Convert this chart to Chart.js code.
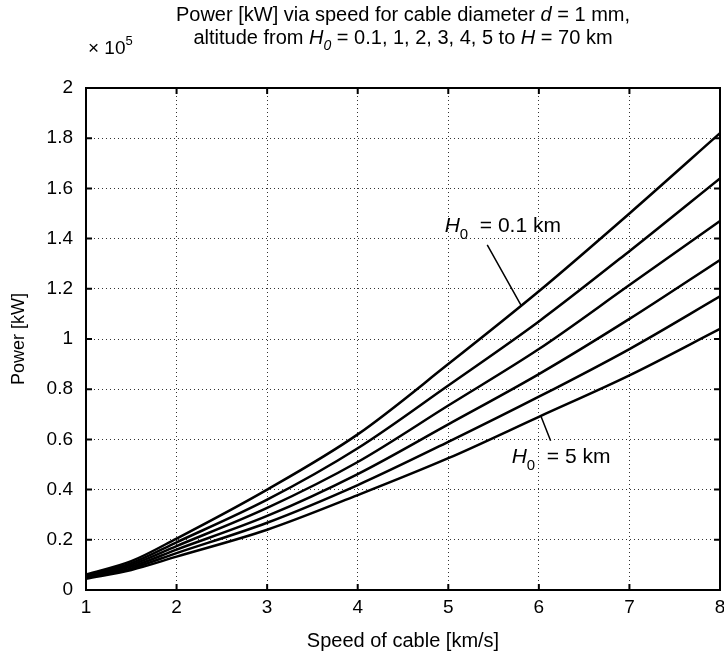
<!DOCTYPE html>
<html>
<head>
<meta charset="utf-8">
<script src="https://cdn.jsdelivr.net/npm/chart.js@4.4.1/dist/chart.umd.min.js"></script>
<style>
html, body { margin: 0; padding: 0; background: #fff; }
#wrap { width: 724px; height: 659px; }
</style>
</head>
<body>
<div id="wrap"><canvas id="chart" width="724" height="659"></canvas></div>
<script>
// speed of cable [km/s]
const speed = [1, 1.5, 2, 3, 4, 5, 6, 7, 8];
// power in units of 10^5 kW, one array per starting altitude H0
const powerH0_01 = [0.062, 0.115, 0.205, 0.40, 0.62, 0.90, 1.19, 1.50, 1.82];
const powerH0_1 = [0.058, 0.107, 0.190, 0.36, 0.565, 0.815, 1.07, 1.35, 1.64];
const powerH0_2 = [0.055, 0.100, 0.175, 0.327, 0.51, 0.735, 0.96, 1.215, 1.47];
const powerH0_3 = [0.052, 0.093, 0.161, 0.295, 0.462, 0.66, 0.86, 1.08, 1.315];
const powerH0_4 = [0.049, 0.086, 0.147, 0.268, 0.418, 0.59, 0.77, 0.96, 1.17];
const powerH0_5 = [0.045, 0.080, 0.133, 0.24, 0.378, 0.525, 0.69, 0.855, 1.04];
const altitudes = ['0.1', '1', '2', '3', '4', '5'];
const allSeries = [powerH0_01, powerH0_1, powerH0_2, powerH0_3, powerH0_4, powerH0_5];

const FONT = '"Liberation Sans", Arial, Helvetica, sans-serif';

// draw a line of text made of pieces (italic / subscript / superscript)
function richText(ctx, parts, x, y, size, align) {
  const fontOf = p => (p.it ? 'italic ' : '') + (p.sub || p.sup ? Math.round(size * 0.7) : size) + 'px ' + FONT;
  let total = 0;
  parts.forEach(p => { ctx.font = fontOf(p); total += ctx.measureText(p.t).width; });
  let cx = align === 'center' ? x - total / 2 : x;
  ctx.textAlign = 'left';
  ctx.textBaseline = 'alphabetic';
  parts.forEach(p => {
    ctx.font = fontOf(p);
    let dy = p.sub ? size * 0.3 : (p.sup ? -size * 0.45 : 0);
    ctx.fillText(p.t, cx, y + dy);
    cx += ctx.measureText(p.t).width;
  });
}

const textPlugin = {
  id: 'texts',
  afterDraw(chart) {
    const ctx = chart.ctx;
    const a = chart.chartArea;
    const xs = chart.scales.x, ys = chart.scales.y;
    ctx.save();
    ctx.fillStyle = '#000';
    ctx.strokeStyle = '#000';

    // frame
    ctx.lineWidth = 2;
    ctx.strokeRect(a.left, a.top, a.right - a.left, a.bottom - a.top);

    // inward tick marks
    ctx.beginPath();
    xs.ticks.forEach(t => {
      const px = xs.getPixelForValue(t.value);
      ctx.moveTo(px, a.bottom); ctx.lineTo(px, a.bottom - 6);
      ctx.moveTo(px, a.top); ctx.lineTo(px, a.top + 6);
    });
    ys.ticks.forEach(t => {
      const py = ys.getPixelForValue(t.value);
      ctx.moveTo(a.left, py); ctx.lineTo(a.left + 6, py);
      ctx.moveTo(a.right, py); ctx.lineTo(a.right - 6, py);
    });
    ctx.stroke();

    // title
    const cx = (a.left + a.right) / 2;
    richText(ctx, [{t: 'Power [kW] via speed for cable diameter '}, {t: 'd', it: true}, {t: ' = 1 mm,'}], cx, 21, 20, 'center');
    richText(ctx, [{t: 'altitude from '}, {t: 'H', it: true}, {t: '0', it: true, sub: true},
      {t: ' = 0.1, 1, 2, 3, 4, 5 to '}, {t: 'H', it: true}, {t: ' = 70 km'}], cx, 44, 20, 'center');

    // exponent
    richText(ctx, [{t: '\u00d7 10'}, {t: '5', sup: true}], a.left + 2, 54, 19, 'left');

    // axis titles
    ctx.textAlign = 'center';
    ctx.textBaseline = 'middle';
    ctx.font = '20px ' + FONT;
    ctx.fillText('Speed of cable [km/s]', cx, 641);
    ctx.font = '18px ' + FONT;
    ctx.save();
    ctx.translate(19, (a.top + a.bottom) / 2);
    ctx.rotate(-Math.PI / 2);
    ctx.fillText('Power [kW]', 0, 0);
    ctx.restore();

    // annotations, placed in data coordinates
    const P = (vx, vy) => [xs.getPixelForValue(vx), ys.getPixelForValue(vy)];
    ctx.lineWidth = 1.5;
    ctx.beginPath();
    let s = P(5.43, 1.375), e = P(5.81, 1.13);
    ctx.moveTo(s[0], s[1]); ctx.lineTo(e[0], e[1]);
    s = P(6.13, 0.595); e = P(6.02, 0.695);
    ctx.moveTo(s[0], s[1]); ctx.lineTo(e[0], e[1]);
    ctx.stroke();
    let p = P(4.96, 1.425);
    richText(ctx, [{t: 'H', it: true}, {t: '0', sub: true}, {t: '  = ' + altitudes[0] + ' km'}], p[0], p[1], 21, 'left');
    p = P(5.70, 0.505);
    richText(ctx, [{t: 'H', it: true}, {t: '0', sub: true}, {t: '  = ' + altitudes[5] + ' km'}], p[0], p[1], 21, 'left');
    ctx.restore();
  }
};

const datasets = allSeries.map((vals, i) => ({
  label: 'H0 = ' + altitudes[i] + ' km',
  data: speed.map((v, k) => ({x: v, y: vals[k]})),
  borderColor: '#000',
  borderWidth: 2.5,
  pointRadius: 0,
  fill: false,
  cubicInterpolationMode: 'monotone'
}));

const gridStyle = {color: '#333', lineWidth: 1, drawTicks: false};

new Chart(document.getElementById('chart').getContext('2d'), {
  type: 'line',
  data: {datasets: datasets},
  options: {
    responsive: false,
    devicePixelRatio: 1,
    animation: false,
    layout: {padding: {left: 0, top: 88, right: 4, bottom: 0}},
    plugins: {legend: {display: false}, title: {display: false}, tooltip: {enabled: false}},
    scales: {
      x: {
        type: 'linear', min: 1, max: 8,
        grid: gridStyle,
        border: {display: false, dash: [1, 3]},
        ticks: {stepSize: 1, color: '#000', padding: 6, font: {family: FONT, size: 19}, maxRotation: 0},
        afterFit: s => { s.height = 69; s.paddingLeft = 0; s.paddingRight = 0; }
      },
      y: {
        type: 'linear', min: 0, max: 2,
        grid: gridStyle,
        border: {display: false, dash: [1, 3]},
        ticks: {
          stepSize: 0.2, color: '#000', padding: 13, font: {family: FONT, size: 19},
          callback: v => String(Number(v.toFixed(1)))
        },
        afterFit: s => { s.width = 86; s.paddingTop = 0; s.paddingBottom = 0; }
      }
    }
  },
  plugins: [textPlugin]
});
</script>
</body>
</html>
